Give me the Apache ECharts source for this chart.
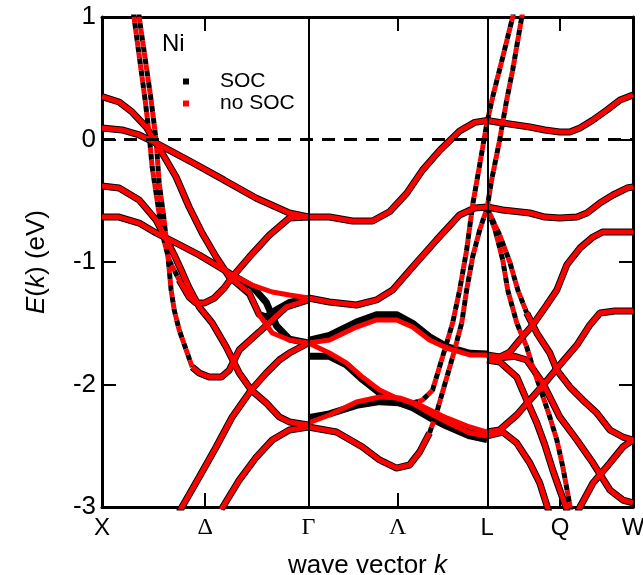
<!DOCTYPE html>
<html><head><meta charset="utf-8">
<script src="https://cdn.jsdelivr.net/npm/echarts@6/dist/echarts.min.js"></script>
<style>html,body{margin:0;padding:0;background:#fff}#c{width:643px;height:575px}</style>
</head><body><div id="c"></div>
<script>
// ---- axis ticks / labels ----
const kTicks = [0, 0.5, 1, 1.433, 1.866, 2.220, 2.573];
const kLabels = ['X', 'Δ', 'Γ', 'Λ', 'L', 'Q', 'W'];
const kMinorTicks = [0.5, 1.433, 2.220];
const kLines = [1, 1.866];
const eTicks = [-3, -2, -1, 0, 1];

// ---- X -> Gamma ----
const xgA = [[0,0.35],[0.083,0.306],[0.146,0.224],[0.214,0.102],[0.252,-0.004],[0.291,-0.11],[0.359,-0.306],[0.422,-0.551],[0.485,-0.763],[0.553,-0.959],[0.617,-1.122],[0.714,-1.253],[0.762,-1.433],[0.825,-1.58],[0.908,-1.637],[1.0,-1.661]];
const xgAsoc = [[0,0.35],[0.083,0.306],[0.146,0.224],[0.214,0.102],[0.252,-0.004],[0.291,-0.11],[0.359,-0.306],[0.422,-0.551],[0.485,-0.763],[0.553,-0.959],[0.617,-1.122],[0.714,-1.26],[0.762,-1.43],[0.796,-1.45],[0.845,-1.39],[0.908,-1.33],[1.0,-1.30]];
const xgB = [[0,0.094],[0.097,0.078],[0.18,0.037],[0.262,-0.029],[0.44,-0.19],[0.59,-0.33],[0.748,-0.48],[0.908,-0.6],[1.0,-0.633]];
const xgD = [[0,-0.38],[0.083,-0.396],[0.18,-0.494],[0.262,-0.657],[0.301,-0.78],[0.35,-0.943],[0.388,-1.082],[0.422,-1.212],[0.471,-1.367],[0.534,-1.498],[0.602,-1.694],[0.665,-1.906],[0.723,-2.045],[0.796,-2.151],[0.859,-2.265],[0.908,-2.306],[1.0,-2.331]];
const xgE = [[0,-0.633],[0.083,-0.633],[0.18,-0.682],[0.262,-0.763],[0.359,-0.845],[0.471,-0.943],[0.568,-1.041],[0.631,-1.106],[0.728,-1.188],[0.825,-1.245],[0.908,-1.269],[1.0,-1.294]];
const xgEsoc = [[0,-0.633],[0.083,-0.633],[0.18,-0.682],[0.262,-0.763],[0.359,-0.845],[0.471,-0.943],[0.568,-1.041],[0.631,-1.106],[0.728,-1.2],[0.796,-1.33],[0.845,-1.52],[0.908,-1.63],[1.0,-1.661]];
const xgSaSteep = [[0.15,1.05],[0.155,1.0],[0.209,0.322],[0.228,0.053],[0.243,-0.224],[0.267,-0.494],[0.291,-0.763],[0.325,-0.984],[0.374,-1.147]];
const xgSa = [[0.374,-1.147],[0.422,-1.286],[0.456,-1.335],[0.495,-1.335],[0.544,-1.294],[0.592,-1.212],[0.631,-1.122],[0.714,-0.959],[0.811,-0.78],[0.908,-0.641],[1.0,-0.633]];
const xgSbSteep = [[0.177,1.05],[0.18,1.0],[0.238,0.322],[0.262,-0.004],[0.277,-0.355],[0.301,-0.657],[0.32,-0.959],[0.335,-1.229],[0.35,-1.392],[0.374,-1.555],[0.408,-1.718],[0.437,-1.857]];
const xgSb = [[0.437,-1.857],[0.471,-1.906],[0.519,-1.939],[0.578,-1.939],[0.617,-1.882],[0.665,-1.718],[0.762,-1.571],[0.893,-1.367],[1.0,-1.31]];
const xgX3min = [[0.374,-3.04],[0.471,-2.755],[0.553,-2.51],[0.631,-2.265],[0.723,-2.045],[0.796,-1.906],[0.859,-1.8],[0.908,-1.743],[1.0,-1.661]];
const xgX3maj = [[0.578,-3.02],[0.665,-2.78],[0.748,-2.592],[0.825,-2.453],[0.908,-2.371],[1.0,-2.347]];

// ---- Gamma -> L ----
const glG1 = [[1.0,-0.633],[1.102,-0.633],[1.214,-0.665],[1.311,-0.665],[1.393,-0.59],[1.476,-0.44],[1.553,-0.25],[1.636,-0.09],[1.733,0.07],[1.806,0.14],[1.866,0.155]];
const glG2 = [[1.0,-1.294],[1.102,-1.327],[1.233,-1.351],[1.33,-1.31],[1.408,-1.229],[1.505,-1.041],[1.621,-0.82],[1.733,-0.616],[1.806,-0.559],[1.866,-0.551]];
const glG3 = [[1.0,-1.661],[1.102,-1.637],[1.233,-1.531],[1.33,-1.473],[1.427,-1.473],[1.505,-1.531],[1.587,-1.637],[1.67,-1.702],[1.782,-1.759],[1.866,-1.759]];
const glG3soc = [[1.0,-1.64],[1.102,-1.6],[1.233,-1.49],[1.33,-1.43],[1.427,-1.43],[1.505,-1.5],[1.587,-1.61],[1.67,-1.69],[1.782,-1.745],[1.866,-1.75]];
const glG4 = [[1.0,-1.661],[1.102,-1.743],[1.184,-1.824],[1.262,-1.939],[1.345,-2.045],[1.427,-2.11],[1.505,-2.151],[1.587,-2.233],[1.67,-2.306],[1.782,-2.396],[1.866,-2.42]];
const glG4soc = [[1.0,-1.77],[1.102,-1.77],[1.184,-1.84],[1.262,-1.96],[1.345,-2.07],[1.427,-2.14],[1.505,-2.19],[1.587,-2.27],[1.67,-2.34],[1.782,-2.42],[1.866,-2.45]];
const glG5 = [[1.0,-2.314],[1.102,-2.249],[1.233,-2.143],[1.345,-2.102],[1.442,-2.11],[1.539,-2.167],[1.67,-2.273],[1.782,-2.347],[1.866,-2.388]];
const glG5soc = [[1.0,-2.27],[1.102,-2.24],[1.233,-2.17],[1.345,-2.14],[1.442,-2.15],[1.539,-2.2],[1.67,-2.31],[1.782,-2.39],[1.866,-2.43]];
const glG6 = [[1.0,-2.347],[1.136,-2.388],[1.262,-2.51],[1.345,-2.616],[1.427,-2.682],[1.49,-2.657],[1.539,-2.551],[1.587,-2.396]];
const glG6Steep = [[1.587,-2.396],[1.621,-2.233],[1.66,-2.004],[1.699,-1.776],[1.743,-1.498],[1.767,-1.229],[1.796,-0.959],[1.83,-0.739],[1.866,-0.559],[1.888,-0.331],[1.927,-0.004],[1.961,0.322],[1.99,0.567],[2.034,1.0],[2.044,1.1]];
const glG7Steep = [[1.505,-2.151],[1.553,-2.127],[1.602,-2.045],[1.65,-1.776],[1.699,-1.498],[1.733,-1.229],[1.767,-0.902],[1.796,-0.535],[1.83,-0.208],[1.866,0.143],[1.893,0.347],[1.942,0.673],[1.99,1.0],[2.0,1.1]];

// ---- L -> W ----
const lwW1 = [[1.866,0.155],[1.942,0.135],[2.073,0.102],[2.146,0.078],[2.218,0.061],[2.267,0.061],[2.316,0.094],[2.379,0.159],[2.447,0.241],[2.51,0.322],[2.573,0.363]];
const lwW2 = [[1.866,-0.551],[1.942,-0.576],[2.073,-0.6],[2.146,-0.633],[2.218,-0.641],[2.301,-0.633],[2.35,-0.6],[2.413,-0.518],[2.476,-0.453],[2.544,-0.396],[2.573,-0.388]];
const lwW3 = [[1.866,-1.759],[1.927,-1.776],[1.976,-1.735],[2.024,-1.637],[2.087,-1.514],[2.155,-1.351],[2.204,-1.229],[2.252,-1.024],[2.316,-0.886],[2.379,-0.796],[2.427,-0.755],[2.573,-0.755]];
const lwW4 = [[1.866,-2.388],[1.927,-2.371],[2.01,-2.249],[2.073,-2.127],[2.146,-1.988],[2.218,-1.841],[2.301,-1.678],[2.364,-1.514],[2.413,-1.416],[2.485,-1.4],[2.573,-1.4]];
const lwW5Steep = [[1.866,-0.559],[1.905,-0.739],[1.942,-0.984],[1.966,-1.229],[2.01,-1.498],[2.058,-1.694],[2.087,-1.857],[2.121,-2.02],[2.17,-2.265],[2.204,-2.453],[2.233,-2.673],[2.267,-2.984],[2.277,-3.07]];
const lwW6Steep = [[1.866,-0.559],[1.927,-0.78],[1.976,-1.0],[2.015,-1.229],[2.058,-1.416]];
const lwW6 = [[2.058,-1.416],[2.107,-1.58],[2.17,-1.743],[2.204,-1.882],[2.267,-2.02],[2.33,-2.127],[2.398,-2.233],[2.461,-2.371],[2.524,-2.429],[2.573,-2.453]];
const lwW7 = [[1.866,-1.8],[1.927,-1.816],[2.01,-1.939],[2.058,-2.127],[2.107,-2.314],[2.146,-2.494],[2.184,-2.698],[2.218,-2.861],[2.248,-3.0],[2.257,-3.06]];
const lwW8 = [[1.866,-2.42],[1.942,-2.388],[2.01,-2.478],[2.073,-2.641],[2.121,-2.804],[2.155,-2.984],[2.165,-3.04]];
const lwW9 = [[2.306,-3.04],[2.316,-3.0],[2.379,-2.804],[2.461,-2.641],[2.524,-2.51],[2.573,-2.453]];
const lwW10 = [[1.866,-1.78],[1.942,-1.78],[2.0,-1.77],[2.058,-1.80],[2.136,-1.988],[2.218,-2.265],[2.301,-2.453],[2.379,-2.641],[2.461,-2.861],[2.524,-2.943],[2.573,-2.967]];

// band lists: [noSOC data, SOC data, dashed?]
const bands = [
  [xgA, xgAsoc, false], [xgB, xgB, false], [xgD, xgD, false], [xgE, xgEsoc, false],
  [xgSaSteep, xgSaSteep, true], [xgSa, xgSa, false], [xgSbSteep, xgSbSteep, true], [xgSb, xgSb, false],
  [xgX3min, xgX3min, false], [xgX3maj, xgX3maj, false],
  [glG1, glG1, false], [glG2, glG2, false], [glG3, glG3soc, false], [glG4, glG4soc, false],
  [glG5, glG5soc, false], [glG6, glG6, false], [glG6Steep, glG6Steep, true], [glG7Steep, glG7Steep, true],
  [lwW1, lwW1, false], [lwW2, lwW2, false], [lwW3, lwW3, false], [lwW4, lwW4, false],
  [lwW5Steep, lwW5Steep, true], [lwW6Steep, lwW6Steep, true], [lwW6, lwW6, false],
  [lwW7, lwW7, false], [lwW8, lwW8, false], [lwW9, lwW9, false], [lwW10, lwW10, false]
];

const FONT = '"Liberation Sans", Arial, Helvetica, sans-serif';
const SERIF = '"Liberation Serif", "DejaVu Serif", serif';
const GREEK = ['Δ', 'Γ', 'Λ'];

const series = [];
series.push({
  type: 'line', name: 'ref', data: [], silent: true, z: 1, symbol: 'none',
  markLine: {
    silent: true, symbol: 'none', label: {show: false}, animation: false,
    data: [
      {xAxis: kLines[0], lineStyle: {color: '#000', width: 2, type: 'solid'}},
      {xAxis: kLines[1], lineStyle: {color: '#000', width: 2, type: 'solid'}},
      {yAxis: 0, lineStyle: {color: '#000', width: 3, type: [13, 9]}}
    ]
  }
});
bands.forEach(([red, blk, dashed]) => {
  series.push({
    type: 'line', name: 'SOC', data: blk, symbol: 'none', silent: true, z: 2,
    itemStyle: {color: '#000'},
    lineStyle: {color: '#000', width: dashed ? 5 : 7, type: dashed ? [6, 6] : 'solid', cap: 'butt'}
  });
});
bands.forEach(([red, blk, dashed]) => {
  series.push({
    type: 'line', name: 'no SOC', data: red, symbol: 'none', silent: true, z: 3,
    itemStyle: {color: '#ff0000'},
    lineStyle: {color: '#ff0000', width: 5, type: dashed ? [6, 6] : 'solid', dashOffset: dashed ? 6 : 0, cap: 'butt'}
  });
});

const axisLineStyle = {color: '#000', width: 3};
const option = {
  animation: false,
  backgroundColor: '#fff',
  title: {text: 'Ni', left: 157, top: 27, textStyle: {fontSize: 24, fontWeight: 'normal', color: '#000', fontFamily: FONT}},
  legend: {
    orient: 'vertical', left: 178, top: 66, icon: 'rect', itemWidth: 6, itemHeight: 6, itemGap: 1,
    selectedMode: false, data: ['SOC', 'no SOC'],
    textStyle: {fontSize: 21, color: '#000', fontFamily: FONT, padding: [0, 0, 0, 26]}
  },
  grid: {left: 102, right: 10, top: 17, bottom: 68, containLabel: false, outerBoundsMode: 'none'},
  xAxis: [{
    type: 'value', min: kTicks[0], max: kTicks[kTicks.length - 1], position: 'bottom',
    axisLine: {show: true, onZero: false, lineStyle: axisLineStyle},
    axisTick: {show: true, inside: true, length: 14, customValues: kMinorTicks, lineStyle: {color: '#000', width: 2}},
    axisLabel: {
      show: true, customValues: kTicks, margin: 9, fontSize: 24, color: '#000', fontFamily: FONT,
      formatter: function (v) {
        const i = kTicks.findIndex(t => Math.abs(t - v) < 1e-6);
        if (i < 0) return '';
        const s = kLabels[i];
        return GREEK.includes(s) ? '{g|' + s + '}' : s;
      },
      rich: {g: {fontFamily: SERIF, fontSize: 24, color: '#000'}}
    },
    splitLine: {show: false},
    name: 'wave vector {i|k}', nameLocation: 'middle', nameGap: 46,
    nameTextStyle: {fontSize: 26, color: '#000', fontFamily: FONT,
      rich: {i: {fontStyle: 'italic', fontSize: 26, color: '#000', fontFamily: FONT}}}
  }, {
    type: 'value', min: kTicks[0], max: kTicks[kTicks.length - 1], position: 'top',
    axisLine: {show: true, onZero: false, lineStyle: axisLineStyle},
    axisTick: {show: true, inside: true, length: 14, customValues: kMinorTicks, lineStyle: {color: '#000', width: 2}},
    axisLabel: {show: false}, splitLine: {show: false}
  }],
  yAxis: [{
    type: 'value', min: eTicks[0], max: eTicks[eTicks.length - 1], interval: 1, position: 'left',
    axisLine: {show: true, onZero: false, lineStyle: axisLineStyle},
    axisTick: {show: true, inside: true, length: 14, lineStyle: {color: '#000', width: 2}},
    axisLabel: {show: true, margin: 6, fontSize: 26, color: '#000', fontFamily: FONT},
    splitLine: {show: false},
    name: '{i|E}({i|k}) (eV)', nameLocation: 'middle', nameGap: 52, nameRotate: 90,
    nameTextStyle: {fontSize: 26, color: '#000', fontFamily: FONT,
      rich: {i: {fontStyle: 'italic', fontSize: 26, color: '#000', fontFamily: FONT}}}
  }, {
    type: 'value', min: eTicks[0], max: eTicks[eTicks.length - 1], interval: 1, position: 'right',
    axisLine: {show: true, onZero: false, lineStyle: axisLineStyle},
    axisTick: {show: true, inside: true, length: 14, lineStyle: {color: '#000', width: 2}},
    axisLabel: {show: false}, splitLine: {show: false}
  }],
  series: series
};
const chart = echarts.init(document.getElementById('c'), null, {renderer: 'canvas'});
chart.setOption(option);
</script></body></html>
